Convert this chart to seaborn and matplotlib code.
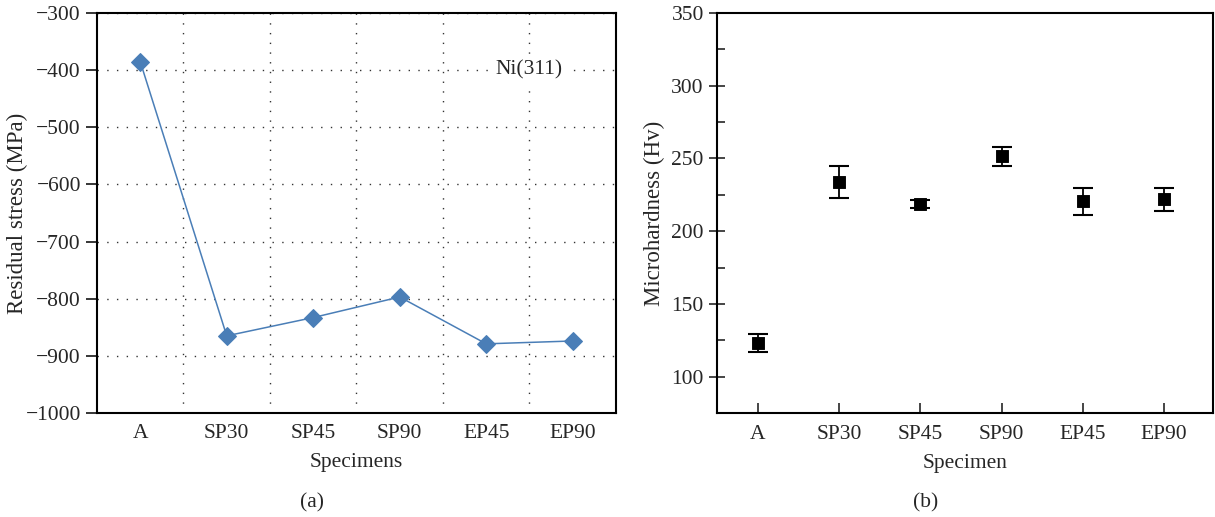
import numpy as np
import pandas as pd
import matplotlib
matplotlib.use('Agg')
import matplotlib.pyplot as plt
import seaborn as sns
from matplotlib.ticker import MultipleLocator

# Datos
especimenes = ['A', 'SP30', 'SP45', 'SP90', 'EP45', 'EP90']
tension_residual = [-385, -865, -833, -797, -879, -874]
microdureza = [123.1, 233.7, 218.6, 251.5, 220.4, 222.0]
error_microdureza = [6.3, 11.0, 3.0, 6.5, 9.5, 8.0]

sns.set_theme(style='ticks')
plt.rcParams['font.family'] = ['Liberation Serif', 'DejaVu Serif']
plt.rcParams['axes.unicode_minus'] = True
fs = 15.5

df_a = pd.DataFrame({'Specimens': especimenes, 'Stress': tension_residual})
df_b = pd.DataFrame({'Specimen': especimenes, 'Hv': microdureza, 'err': error_microdureza})

fig = plt.figure(figsize=(12.15, 5.17), dpi=100)
ax1 = fig.add_axes([0.0798, 0.2012, 0.4272, 0.7737])
ax2 = fig.add_axes([0.5901, 0.2012, 0.4082, 0.7737])

# Panel (a): tension residual
color_a = '#4a7eb7'
sns.lineplot(data=df_a, x='Specimens', y='Stress', ax=ax1, color=color_a, lw=1.1,
             marker='D', markersize=9, markeredgecolor=color_a, sort=False)
ax1.set_xlim(-0.5, 5.5)
ax1.set_ylim(-1000, -300)
ax1.yaxis.set_major_locator(MultipleLocator(100))
ax1.set_xticks(range(len(especimenes)))
ax1.set_xticklabels(especimenes)
ax1.set_xticks(np.arange(0.5, 5.0, 1.0), minor=True)
ax1.grid(False)
ax1.grid(True, which='minor', axis='x', color='#333333', ls=(0, (1, 6)), lw=1.0)
ax1.grid(True, which='major', axis='y', color='#333333', ls=(0, (1, 6)), lw=1.0)
ax1.tick_params(axis='x', which='both', length=0, pad=8, labelsize=fs)
ax1.tick_params(axis='y', which='major', length=8, width=1.3, direction='out', labelsize=fs)
ax1.set_xlabel('Specimens', fontsize=fs, labelpad=7)
ax1.set_ylabel('Residual stress (MPa)', fontsize=fs + 1)
ax1.yaxis.set_label_coords(-0.133, 0.5)
ax1.text(4.5, -400, 'Ni(311)', ha='center', va='center', fontsize=fs,
         bbox=dict(facecolor='white', edgecolor='none', pad=2))
for s in ax1.spines.values():
    s.set_visible(True)
    s.set_linewidth(1.5)
    s.set_color('black')

# Panel (b): microdureza
sns.scatterplot(data=df_b, x='Specimen', y='Hv', ax=ax2, marker='s', s=65,
                color='black', edgecolor='black', zorder=3)
ax2.errorbar(range(len(especimenes)), df_b['Hv'], yerr=df_b['err'], fmt='none',
             ecolor='black', elinewidth=1.3, capsize=7, capthick=1.5, zorder=2)
ax2.set_xlim(-0.5, 5.6)
ax2.set_ylim(75, 350)
ax2.yaxis.set_major_locator(MultipleLocator(50))
ax2.yaxis.set_minor_locator(MultipleLocator(25))
ax2.set_xticks(range(len(especimenes)))
ax2.set_xticklabels(especimenes)
ax2.tick_params(axis='x', which='major', direction='in', length=7, width=1.2, pad=9, labelsize=fs)
ax2.tick_params(axis='y', which='major', direction='inout', length=12, width=1.2, labelsize=fs)
ax2.tick_params(axis='y', which='minor', direction='in', length=6, width=1.2)
ax2.set_xlabel('Specimen', fontsize=fs, labelpad=7)
ax2.set_ylabel('Microhardness (Hv)', fontsize=fs + 1)
ax2.yaxis.set_label_coords(-0.105, 0.5)
ax2.grid(False)
for s in ax2.spines.values():
    s.set_visible(True)
    s.set_linewidth(1.5)
    s.set_color('black')

fig.text(312 / 1215, 1 - 503 / 517, '(a)', ha='center', va='center', fontsize=fs)
fig.text(926 / 1215, 1 - 503 / 517, '(b)', ha='center', va='center', fontsize=fs)

fig.savefig('out.png', dpi=100)
